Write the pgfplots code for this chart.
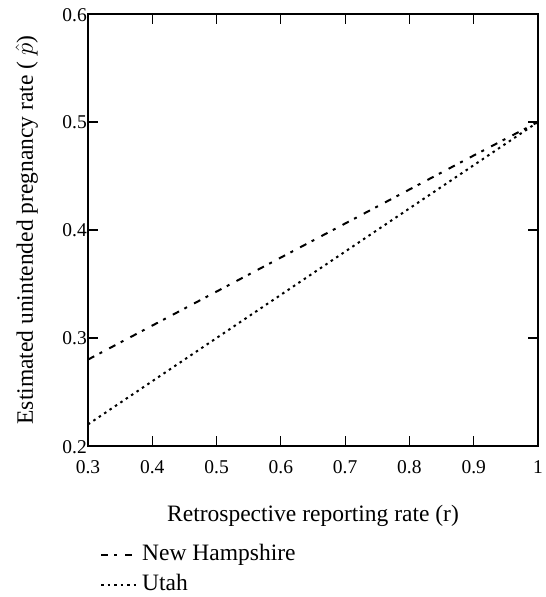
\documentclass[border=0pt]{standalone}
\usepackage{fontspec}
\setmainfont{Liberation Serif}
\usepackage{pgfplots}
\pgfplotsset{compat=1.18}
\begin{document}
\begin{tikzpicture}
\begin{axis}[
  name=ax,
  scale only axis, width=450pt, height=432pt,
  xmin=0.3, xmax=1, ymin=0.2, ymax=0.6,
  xtick={0.3,0.4,0.5,0.6,0.7,0.8,0.9,1},
  ytick={0.3,0.4,0.5},
  extra y ticks={0.2,0.6},
  extra y tick style={yticklabel style={anchor=north east, yshift=6pt}},
  tick pos=both, tick align=inside, major tick length=10pt,
  tick style={black, line width=1.2pt},
  axis line style={line width=1.2pt},
  /pgf/number format/assume math mode=true,
  ticklabel style={font=\fontsize{19.5}{23}\selectfont},
  xticklabel style={inner sep=0pt, yshift=-14pt},
  yticklabel style={inner sep=0pt, xshift=-1pt},
  label style={font=\fontsize{23.5}{28}\selectfont},
  xlabel={Retrospective reporting rate (r)},
  xlabel style={at={([yshift=-75pt]axis description cs:0.5,0)}, anchor=base, inner sep=0pt},
  ylabel={Estimated unintended pregnancy rate ( $\hat{p}$)},
  ylabel style={at={([xshift=-55pt]axis description cs:0,0.5)}, anchor=base, inner sep=0pt},
  legend style={at={(axis description cs:0,0)}, anchor=north west, xshift=12pt, yshift=-97pt,
    draw=none, fill=none, inner sep=0pt, font=\fontsize{23.5}{28}\selectfont, row sep=7pt,
    column sep=2pt,
    nodes={inner sep=1pt, text height=16pt, text depth=5pt}},
  legend cell align=left,
  legend image code/.code={\draw[#1] (0pt,0pt) -- (37pt,0pt);},
]
\addplot[black, line width=2pt, dash pattern=on 7pt off 6pt on 3pt off 8pt]
  coordinates {(0.3,0.28) (0.5,0.343) (0.7,0.406) (0.9,0.469) (1,0.5)};
\addlegendentry{New Hampshire}
\addplot[black, line width=2pt, dash pattern=on 2.5pt off 4pt]
  coordinates {(0.3,0.22) (0.5,0.30) (0.7,0.38) (0.9,0.46) (1,0.5)};
\addlegendentry{Utah}
\end{axis}
\pgfresetboundingbox
\path[use as bounding box] ([shift={(-88pt,-151pt)}]ax.south west) rectangle ([shift={(7pt,14pt)}]ax.north east);
\end{tikzpicture}
\end{document}
